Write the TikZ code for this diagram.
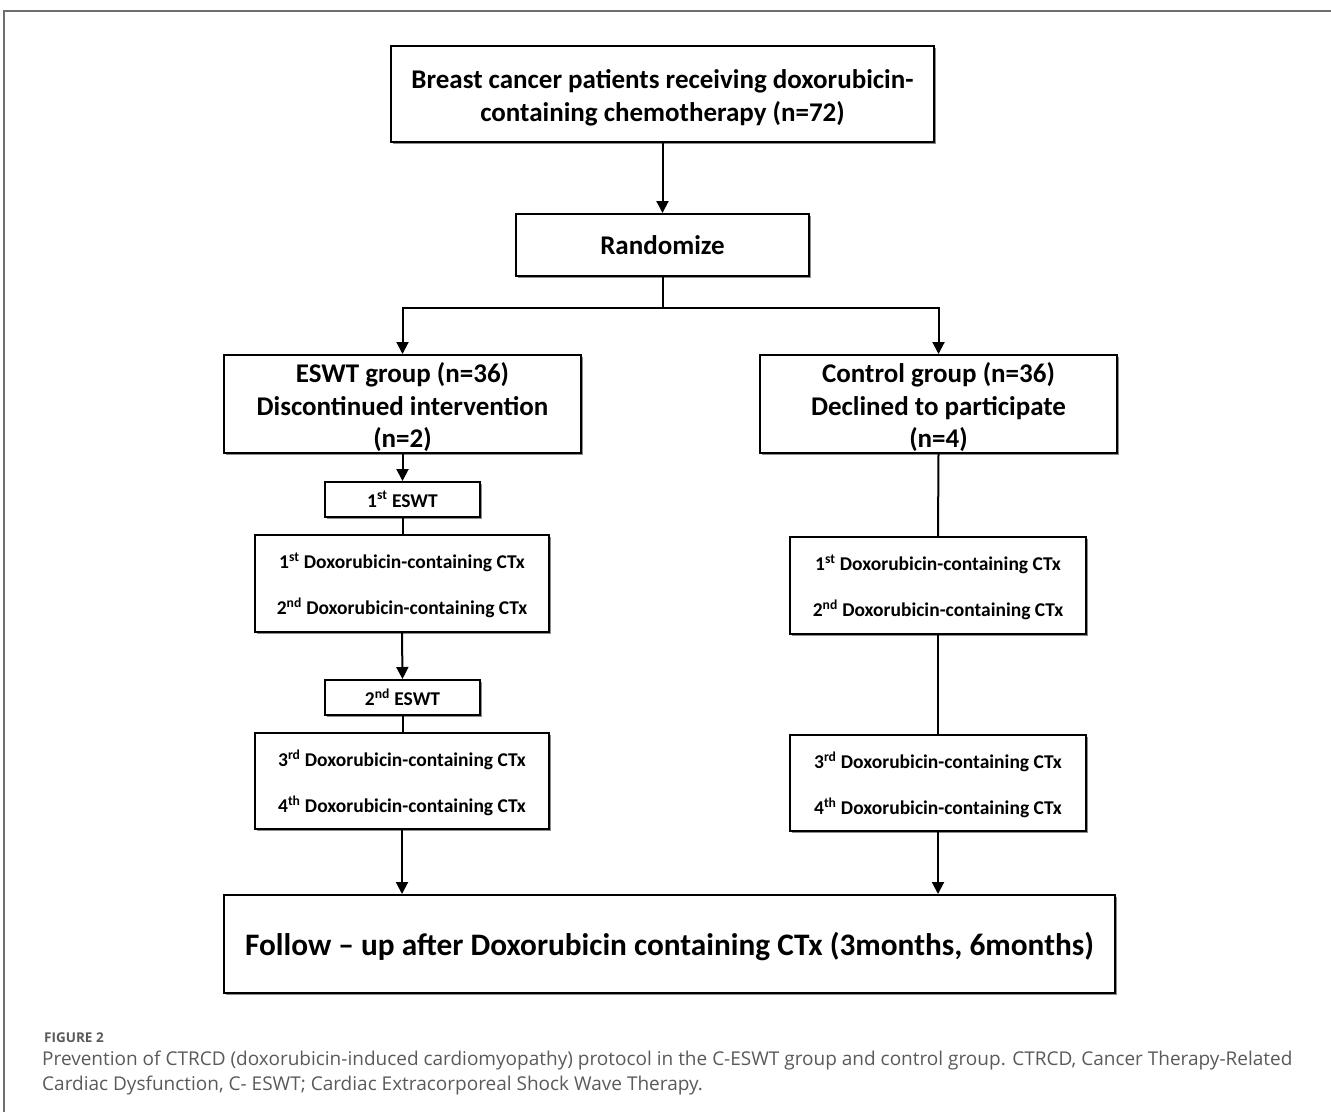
\documentclass[tikz,border=0pt]{standalone}
\usepackage{fontspec}
\setmainfont{Carlito}
\newfontfamily\capfont{Open Sans}
\usetikzlibrary{arrows.meta,shadows}
\definecolor{capgray}{HTML}{5A5A5A}
\definecolor{framegray}{HTML}{6E6E6E}
\tikzset{
  box/.style={draw=black, line width=2pt, fill=white, inner sep=0pt,
    drop shadow={shadow xshift=1.6pt, shadow yshift=-1.6pt, fill=black!45, opacity=1}},
  bigtext/.style={align=center, inner sep=0pt, font=\bfseries\fontsize{27}{33}\selectfont},
  midtext/.style={align=center, inner sep=0pt, font=\bfseries\fontsize{19.5}{46}\selectfont},
  conn/.style={line width=2pt},
  arr/.style={line width=2pt, -{Triangle[length=12pt,width=12pt]}},
  captext/.style={anchor=base west, inner sep=0pt, text=capgray, font=\capfont\fontsize{19}{24}\selectfont},
}
\begin{document}
\begin{tikzpicture}[x=1pt,y=-1pt]
\useasboundingbox (0,0) rectangle (1331,1112);
% frame
\draw[framegray, line width=1.6pt] (1331,11) -- (4,11) -- (4,1112);

% boxes
\node[box, minimum width=543pt, minimum height=96pt] (top) at (662.5,94) {};
\node[bigtext] (toptext) at (662.5,98) {Breast cancer patients receiving doxorubicin-\\containing chemotherapy (n=72)};

\node[box, minimum width=293pt, minimum height=62pt] (rand) at (662.5,245) {};
\node[bigtext] (randtext) at (662.5,245.5) {Randomize};

\node[box, minimum width=357pt, minimum height=98pt] (eswt) at (402.5,404) {};
\node[bigtext, font=\bfseries\fontsize{27}{32.5}\selectfont] (eswttext) at (402.5,407.5)
  {ESWT group (n=36)\\Discontinued intervention\\(n=2)};
\node[box, minimum width=357pt, minimum height=98pt] (ctrl) at (938.5,404) {};
\node[bigtext, font=\bfseries\fontsize{27}{32.5}\selectfont] (ctrltext) at (938.5,407.5)
  {Control group (n=36)\\Declined to participate\\(n=4)};

\node[box, minimum width=155pt, minimum height=35pt] (e1) at (402.5,499.5) {};
\node[midtext] (e1text) at (402.5,499.5) {1\textsuperscript{st} ESWT};
\node[box, minimum width=294pt, minimum height=97pt] (l1) at (402,583.5) {};
\node[midtext] (l1text) at (402,585.5)
  {1\textsuperscript{st} Doxorubicin-containing CTx\\2\textsuperscript{nd} Doxorubicin-containing CTx};
\node[box, minimum width=155pt, minimum height=35pt] (e2) at (402.5,697.5) {};
\node[midtext] (e2text) at (402.5,697.5) {2\textsuperscript{nd} ESWT};
\node[box, minimum width=294pt, minimum height=96pt] (l2) at (402,781) {};
\node[midtext] (l2text) at (402,783)
  {3\textsuperscript{rd} Doxorubicin-containing CTx\\4\textsuperscript{th} Doxorubicin-containing CTx};

\node[box, minimum width=296pt, minimum height=97pt] (r1) at (938,585.5) {};
\node[midtext] (r1text) at (938,587.5)
  {1\textsuperscript{st} Doxorubicin-containing CTx\\2\textsuperscript{nd} Doxorubicin-containing CTx};
\node[box, minimum width=296pt, minimum height=96pt] (r2) at (938,783) {};
\node[midtext] (r2text) at (938,785)
  {3\textsuperscript{rd} Doxorubicin-containing CTx\\4\textsuperscript{th} Doxorubicin-containing CTx};

\node[box, minimum width=891pt, minimum height=98pt] (fu) at (669.5,944) {};
\node[bigtext, font=\bfseries\fontsize{31.3}{36}\selectfont] (futext) at (669.5,947)
  {Follow -- up after Doxorubicin containing CTx (3months, 6months)};

% connectors
\draw[arr] (top.south) -- (rand.north);
\coordinate (split) at (662.5,308);
\draw[conn] (rand.south) -- (split);
\draw[arr] (split) -| (eswt.north);
\draw[arr] (split) -| (ctrl.north);
\draw[arr] (eswt.south) -- (e1.north);
\draw[conn] (e1.south) -- (e1.south |- l1.north);
\draw[arr] (l1.south) -- (e2.north);
\draw[conn] (e2.south) -- (e2.south |- l2.north);
\draw[arr] (l2.south) -- (l2.south |- fu.north);
\draw[conn] (ctrl.south) -- (r1.north);
\draw[conn] (r1.south) -- (r2.north);
\draw[arr] (r2.south) -- (r2.south |- fu.north);

% caption
\node[anchor=base west, inner sep=0pt, text=capgray, font=\capfont\bfseries\fontsize{13.5}{16}\selectfont] (figlab) at (44,1042) {FIGURE 2};
\node[captext] (cap1) at (42,1065)
  {Prevention of CTRCD (doxorubicin-induced cardiomyopathy) protocol in the C-ESWT group and control group. CTRCD, Cancer Therapy-Related};
\node[captext] (cap2) at (42,1090)
  {Cardiac Dysfunction, C- ESWT; Cardiac Extracorporeal Shock Wave Therapy.};
\end{tikzpicture}
\end{document}
